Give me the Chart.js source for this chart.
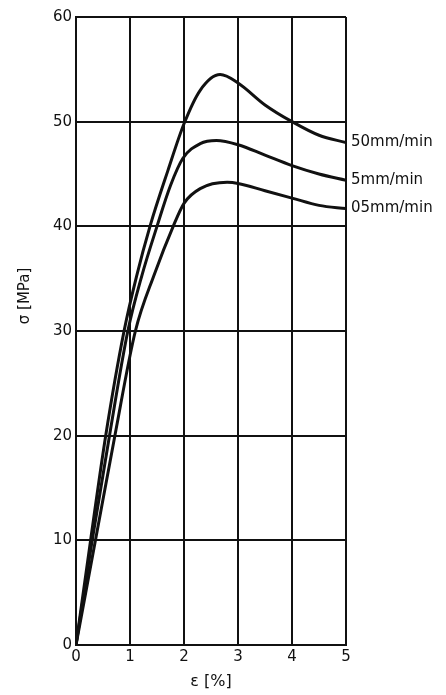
<!DOCTYPE html>
<html>
<head>
<meta charset="utf-8">
<script src="https://cdn.jsdelivr.net/npm/chart.js@4.4.1/dist/chart.umd.min.js"></script>
<style>
  html, body { margin: 0; padding: 0; background: #fff; }
  #wrap { width: 446px; height: 695px; }
</style>
</head>
<body>
<div id="wrap"><canvas id="c" width="446" height="695"></canvas></div>
<script>
// strain [%] / stress [MPa]
const rateLabels = ["50mm/min", "5mm/min", "05mm/min"];
const strain50 = [0, 0.27, 0.55, 0.89, 1.12, 1.37, 1.7, 2.0, 2.3, 2.67, 3.0, 3.5, 4.0, 4.5, 5.0];
const stress50 = [0, 10, 20, 30, 35.2, 40, 45.3, 49.8, 53, 54.5, 53.7, 51.6, 50, 48.7, 48];
const strain5 = [0, 0.3, 0.62, 0.96, 1.22, 1.5, 1.75, 1.98, 2.3, 2.6, 3.0, 3.5, 4.0, 4.5, 5.0];
const stress5 = [0, 10, 20, 30, 35.3, 40, 43.9, 46.5, 47.9, 48.2, 47.8, 46.8, 45.8, 45, 44.4];
const strain05 = [0, 0.36, 0.72, 1.1, 1.45, 1.8, 2.0, 2.3, 2.8, 3.0, 3.5, 4.0, 4.5, 5.0];
const stress05 = [0, 10, 20, 30, 35.4, 40, 42.2, 43.6, 44.2, 44.1, 43.4, 42.7, 42, 41.7];
const xTicks = [0, 1, 2, 3, 4, 5];
const yTicks = [0, 10, 20, 30, 40, 50, 60];

const ink = "#111";
const font = "DejaVu Sans";
const pts = (xs, ys) => xs.map((x, i) => ({ x: x, y: ys[i] }));

const curveStyle = {
  showLine: true, borderColor: ink, borderWidth: 3, pointRadius: 0,
  cubicInterpolationMode: "monotone", fill: false
};

// rate next to the end of each curve, and the sigma title beside the axis
const annotate = {
  id: "annotate",
  afterDatasetsDraw(chart) {
    const ctx = chart.ctx;
    ctx.save();
    ctx.fillStyle = ink;
    ctx.font = "15px '" + font + "'";
    ctx.textAlign = "left";
    ctx.textBaseline = "middle";
    chart.data.datasets.forEach((ds, i) => {
      const meta = chart.getDatasetMeta(i);
      const last = meta.data[meta.data.length - 1];
      ctx.fillText(ds.label, last.x + 5, last.y);
    });
    ctx.translate(25, 296);
    ctx.rotate(-Math.PI / 2);
    ctx.textAlign = "center";
    ctx.fillText("σ [MPa]", 0, 0);
    ctx.restore();
  }
};

new Chart(document.getElementById("c"), {
  type: "scatter",
  data: {
    datasets: [
      { label: rateLabels[0], data: pts(strain50, stress50), ...curveStyle },
      { label: rateLabels[1], data: pts(strain5, stress5), ...curveStyle },
      { label: rateLabels[2], data: pts(strain05, stress05), ...curveStyle }
    ]
  },
  options: {
    responsive: false,
    animation: false,
    layout: { padding: { top: 17, right: 100, left: 0, bottom: 0 } },
    plugins: { legend: { display: false }, tooltip: { enabled: false } },
    scales: {
      x: {
        type: "linear", min: 0, max: 5,
        afterBuildTicks: s => { s.ticks = xTicks.map(v => ({ value: v })); },
        afterFit: s => { s.height = 50; },
        grid: { color: ink, lineWidth: 2, drawTicks: false },
        border: { color: ink, width: 2 },
        ticks: { color: ink, font: { family: font, size: 15 }, padding: 3 },
        title: { display: true, text: "ε [%]", color: ink, font: { family: font, size: 16 }, padding: { top: 1 } }
      },
      y: {
        type: "linear", min: 0, max: 60,
        afterBuildTicks: s => { s.ticks = yTicks.map(v => ({ value: v })); },
        afterFit: s => { s.width = 76; },
        grid: { color: ink, lineWidth: 2, drawTicks: false },
        border: { color: ink, width: 2 },
        ticks: { color: ink, font: { family: font, size: 15 }, padding: 4 }
      }
    }
  },
  plugins: [annotate]
});
</script>
</body>
</html>
